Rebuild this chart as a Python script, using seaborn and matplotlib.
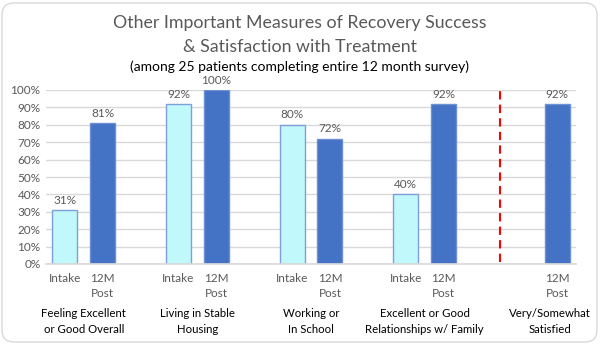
import matplotlib
matplotlib.use("Agg")
import matplotlib.pyplot as plt
from matplotlib.patches import FancyBboxPatch
import seaborn as sns
import pandas as pd
import numpy as np

# ---- data ----
groups = ["Feeling Excellent\nor Good Overall", "Living in Stable\nHousing",
          "Working or\nIn School", "Excellent or Good\nRelationships w/ Family",
          "Very/Somewhat\nSatisfied"]
intake = [31, 92, 80, 40, None]
post12 = [81, 100, 72, 92, 92]
series_labels = ["Intake", "12M\nPost"]
yticks = [0, 10, 20, 30, 40, 50, 60, 70, 80, 90, 100]

rows = []
for gi, g in enumerate(groups):
    for si, (s, vals) in enumerate(zip(series_labels, [intake, post12])):
        v = vals[gi]
        rows.append({"pos": gi * 3 + si, "value": v, "series": s, "group": g})
df = pd.DataFrame(rows)
dfp = df.dropna(subset=["value"]).reset_index(drop=True)

sns.set_theme(style="white")
plt.rcParams['font.family'] = ['Lato', 'DejaVu Sans']

fig = plt.figure(figsize=(6.0, 3.44), dpi=100)
ax = fig.add_axes([46/600, 1 - 264/344, 530/600, 174/344])

light = "#C0F8FB"
dark = "#4472C4"
edge_light = "#7F9FDC"
edge_dark = "#6D8FD4"

sns.barplot(data=dfp, x="pos", y="value", hue="series", native_scale=True, dodge=False,
            width=0.66, palette={series_labels[0]: light, series_labels[1]: dark},
            saturation=1, ax=ax, errorbar=None, legend=False, linewidth=1.0)
for p in ax.patches:
    fc = matplotlib.colors.to_hex(p.get_facecolor())
    p.set_edgecolor(edge_light if fc.lower() == light.lower() else edge_dark)

ax.set_xlim(-0.5, 13.5)
ax.set_ylim(0, 100)
ax.set_yticks(yticks)
ax.set_yticklabels([f"{t}%" for t in yticks], color="#595959", fontsize=8.5)
ax.yaxis.grid(True, color="#D9D9D9", linewidth=1.0)
ax.set_axisbelow(True)
for sp in ["top", "right", "left"]:
    ax.spines[sp].set_visible(False)
ax.spines["bottom"].set_color("#D9D9D9")
ax.tick_params(axis="y", length=0, pad=4)
ax.tick_params(axis="x", length=0, pad=6.5)

# x tick labels under each bar slot
ax.set_xticks(list(dfp["pos"]))
ax.set_xticklabels(list(dfp["series"]), color="#595959", fontsize=8.5, linespacing=1.45, va="top")
ax.set_xlabel("")
ax.set_ylabel("")

# value labels
for _, r in dfp.iterrows():
    ax.text(r["pos"], r["value"] + 2.5, f"{int(r['value'])}%", ha="center", va="bottom",
            fontsize=8.5, color="#595959")

# group labels
trans = ax.get_xaxis_transform()
for gi, g in enumerate(groups):
    cx = gi * 3 + 0.5 if gi < 4 else 12.8
    ax.text(cx, -0.255, g, transform=trans, ha="center", va="top", fontsize=8.2,
            color="black", linespacing=1.55)

# red dashed separator
ax.axvline(11.5, ymin=0.01, ymax=1.0, color="#FF0000", linestyle=(0, (4, 2.5)), linewidth=1.5)

# titles
fig.text(0.5, 1 - 23/344, "Other Important Measures of Recovery Success", ha="center",
         va="center", fontsize=12.8, color="#595959")
fig.text(0.5, 1 - 47/344, "& Satisfaction with Treatment", ha="center",
         va="center", fontsize=12.8, color="#595959")
fig.text(0.5, 1 - 67/344, "(among 25 patients completing entire 12 month survey)", ha="center",
         va="center", fontsize=10, color="black")

# rounded border
border = FancyBboxPatch((2/600, 2/344), 595/600, 339/344,
                        boxstyle="round,pad=0,rounding_size=0.02",
                        transform=fig.transFigure, fill=False, edgecolor="#D9D9D9",
                        linewidth=1.0, mutation_aspect=600/344)
fig.patches.append(border)

fig.savefig("out.png", dpi=100)
